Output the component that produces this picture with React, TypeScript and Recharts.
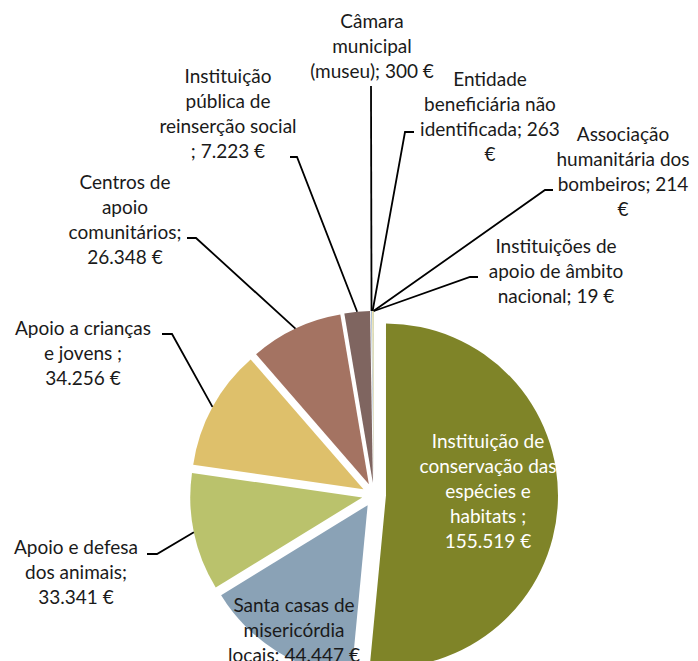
import React from 'react';
import { PieChart, Pie, Cell, Sector } from 'recharts';

const categories = [
  'Instituição de conservação das espécies e habitats',
  'Santa casas de misericórdia locais',
  'Apoio e defesa dos animais',
  'Apoio a crianças e jovens',
  'Centros de apoio comunitários',
  'Instituição pública de reinserção social',
  'Câmara municipal (museu)',
  'Entidade beneficiária não identificada',
  'Associação humanitária dos bombeiros',
  'Instituições de apoio de âmbito nacional',
];

const amounts = [155519, 44447, 33341, 34256, 26348, 7223, 300, 263, 214, 19];

const labelLines = [
  ['Instituição de', 'conservação das', 'espécies e', 'habitats ;', '155.519 €'],
  ['Santa casas de', 'misericórdia', 'locais; 44.447 €'],
  ['Apoio e defesa', 'dos animais;', '33.341 €'],
  ['Apoio a crianças', 'e jovens ;', '34.256 €'],
  ['Centros de', 'apoio', 'comunitários;', '26.348 €'],
  ['Instituição', 'pública de', 'reinserção social', '; 7.223 €'],
  ['Câmara', 'municipal', '(museu); 300 €'],
  ['Entidade', 'beneficiária não', 'identificada; 263', '€'],
  ['Associação', 'humanitária dos', 'bombeiros; 214', '€'],
  ['Instituições de', 'apoio de âmbito', 'nacional; 19 €'],
];

const colors = [
  '#7f8428', '#8aa2b6', '#bac26c', '#dec06b', '#a47362',
  '#7f6560', '#a9bdd3', '#ece0a6', '#c9cfa0', '#d8c7bd',
];

// where each data label sits (text centre, first line) and its leader line
const labelLayout: { x: number; y: number; color: string; elbow?: [number, number]; end?: [number, number] }[] = [
  { x: 488, y: 448, color: '#ffffff' },
  { x: 294, y: 612, color: '#1a1a1a' },
  { x: 76, y: 554, color: '#1a1a1a', elbow: [157, 554], end: [147, 554] },
  { x: 83, y: 335, color: '#1a1a1a', elbow: [172, 334], end: [162, 334] },
  { x: 125, y: 189, color: '#1a1a1a', elbow: [196, 238], end: [187, 238] },
  { x: 228, y: 83, color: '#1a1a1a', elbow: [297, 157], end: [290, 157] },
  { x: 372, y: 28, color: '#1a1a1a', elbow: [371, 86] },
  { x: 490, y: 86, color: '#1a1a1a', elbow: [405, 132], end: [414, 132] },
  { x: 623, y: 141, color: '#1a1a1a', elbow: [545, 190], end: [553, 190] },
  { x: 556, y: 253, color: '#1a1a1a', elbow: [470, 277], end: [478, 277] },
];

const data = categories.map((name, i) => ({ name, value: amounts[i] }));

const RAD = Math.PI / 180;
const EXPLODE = 12;
const LINE_H = 25;

const ExplodedSector = (props: any) => {
  const { cx, cy, midAngle } = props;
  const dx = EXPLODE * Math.cos(-midAngle * RAD);
  const dy = EXPLODE * Math.sin(-midAngle * RAD);
  return <Sector {...props} cx={cx + dx} cy={cy + dy} />;
};

const renderLabel = (props: any) => {
  const { cx, cy, midAngle, outerRadius, index } = props;
  const layout = labelLayout[index];
  const lines = labelLines[index];
  let leader = null;
  if (layout.elbow) {
    const r = outerRadius + EXPLODE;
    const sx = cx + r * Math.cos(-midAngle * RAD);
    const sy = cy + r * Math.sin(-midAngle * RAD);
    const pts = [[sx, sy], layout.elbow];
    if (layout.end) pts.push(layout.end);
    leader = (
      <polyline
        points={pts.map((p) => p.join(',')).join(' ')}
        fill="none"
        stroke="#000000"
        strokeWidth={1.8}
      />
    );
  }
  return (
    <g key={`lbl-${index}`}>
      {leader}
      <text
        x={layout.x}
        y={layout.y}
        textAnchor="middle"
        fill={layout.color}
        fontFamily="Lato, 'Open Sans', sans-serif"
        fontSize={19}
      >
        {lines.map((line, i) => (
          <tspan key={i} x={layout.x} y={layout.y + i * LINE_H}>
            {line}
          </tspan>
        ))}
      </text>
    </g>
  );
};

export default function App() {
  return (
    <div style={{ position: 'fixed', left: 0, top: 0, background: '#ffffff' }}>
      <PieChart width={698} height={661}>
        <Pie
          data={data}
          dataKey="value"
          nameKey="name"
          cx={369}
          cy={490}
          outerRadius={172}
          startAngle={90}
          endAngle={-270}
          stroke="none"
          isAnimationActive={false}
          shape={ExplodedSector}
          label={renderLabel}
          labelLine={false}
        >
          {data.map((entry, i) => (
            <Cell key={entry.name} fill={colors[i]} />
          ))}
        </Pie>
      </PieChart>
    </div>
  );
}
